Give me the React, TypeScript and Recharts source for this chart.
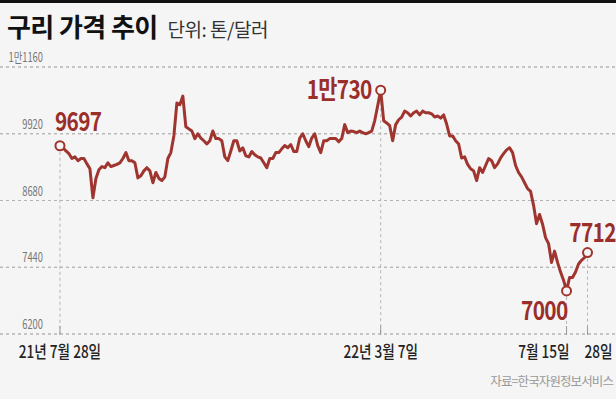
import { LineChart, Line, XAxis, YAxis, CartesianGrid, ReferenceLine } from 'recharts'

// 2021-07-28 ~ 2022-07-28 copper price, USD per ton
const prices = [
  9697, 9660, 9600, 9550, 9460, 9490, 9420, 9460, 9460, 9360,
  9270, 8730, 9090, 9250, 9310, 9290, 9380, 9310, 9330, 9350,
  9380, 9460, 9570, 9420, 9420, 9380, 9100, 9140, 9230, 9290,
  9230, 9010, 9200, 9090, 9050, 9120, 9460, 9570, 9880, 10490,
  10460, 10620, 10050, 10010, 9970, 9830, 9920, 9840, 9790, 9730,
  9790, 9970, 9830, 9830, 9790, 9490, 9420, 9600, 9790, 9790,
  9600, 9660, 9510, 9490, 9590, 9530, 9490, 9470, 9380, 9290,
  9460, 9460, 9570, 9570, 9640, 9700, 9660, 9720, 9590, 9590,
  9840, 9920, 9790, 9680, 9840, 9920, 9700, 9570, 9790, 9790,
  9830, 9830, 9830, 9770, 9830, 10090, 9940, 9970, 9960, 9940,
  9970, 9940, 9920, 9940, 9970, 10160, 10440, 10730, 10160, 10120,
  10070, 9790, 10090, 10180, 10230, 10340, 10310, 10250, 10310, 10340,
  10270, 10340, 10310, 10310, 10290, 10230, 10250, 10210, 10270, 10100,
  9880, 9880, 9790, 9730, 9470, 9490, 9350, 9270, 9230, 9050,
  9290, 9200, 9330, 9460, 9420, 9290, 9360, 9470, 9550, 9620,
  9660, 9570, 9330, 9200, 9120, 9010, 8900, 8850, 8590, 8250,
  8420, 8240, 7990, 7880, 7530, 7740, 7530, 7350, 7200, 7000,
  7250, 7250, 7350, 7500, 7570, 7620, 7712,
]

const tickIdx = [0, 107, 169, 176]
const tickLabels = ['21년 7월 28일', '22년 3월 7일', '7월 15일', '28일']
const yTicks = [6200, 7440, 8680, 9920, 11160]
const yTickLabels = ['6200', '7440', '8680', '9920', '1만1160']
const xDomain = [-20, 185.5]

const markIdx = [0, 107, 169, 176]
const markLabels = ['9697', '1만730', '7000', '7712']

const data = prices.map((v, i) => ({ i, v }))

const RED = '#a0352f'
const TEXT_RED = '#9a2e2a'
const BG = '#f5f5f5'
const GRID = '#b4b4b4'
const FONT = '"Noto Sans CJK KR", "Noto Sans", sans-serif'

// label placement per marked point
const markStyle = [
  { dx: -5, dy: -15, anchor: 'start' },
  { dx: -9, dy: 9, anchor: 'end' },
  { dx: 1, dy: 29, anchor: 'end' },
  { dx: 5, dy: -11, anchor: 'middle' },
]

function MarkDot(props: any) {
  const { cx, cy, index } = props
  const k = markIdx.indexOf(index)
  if (k < 0) return <g key={`d${index}`} />
  const s = markStyle[k]
  return (
    <g key={`d${index}`}>
      <circle cx={cx} cy={cy} r={4.5} fill={BG} stroke={RED} strokeWidth={2} />
      <g transform={`translate(${cx + s.dx},${cy + s.dy})`}>
        <text
          transform="scale(0.8,1)"
          textAnchor={s.anchor as any}
          fontFamily={FONT}
          fontWeight={700}
          fontSize={26}
          fill={TEXT_RED}
          letterSpacing={-0.8}
        >
          {markLabels[k]}
        </text>
      </g>
    </g>
  )
}

function XTick(props: any) {
  const { x, y, payload } = props
  const k = tickIdx.indexOf(payload.value)
  const anchor = k === 2 ? 'end' : k === 3 ? 'start' : 'middle'
  const tx = k === 2 ? 3 : k === 3 ? -3 : 0
  return (
    <g>
      <line x1={x} x2={x} y1={y - 8} y2={y + 1} stroke="#999" strokeWidth={1} />
      <g transform={`translate(${x + tx},${y + 24})`}>
        <text transform="scale(0.8,1)" textAnchor={anchor} fontFamily={FONT} fontWeight={500} fontSize={17} fill="#222">
          {tickLabels[k]}
        </text>
      </g>
    </g>
  )
}

function YTick(props: any) {
  const { y, payload } = props
  const k = yTicks.indexOf(payload.value)
  return (
    <g transform={`translate(43,${y - 5})`}>
      <text transform="scale(0.72,1)" textAnchor="end" fontFamily={FONT} fontSize={13} fill="#777">
        {yTickLabels[k]}
      </text>
    </g>
  )
}

export default function App() {
  return (
    <div
      style={{
        position: 'absolute',
        left: 0,
        top: 0,
        width: 616,
        height: 399,
        background: BG,
        borderTop: '3px solid #111',
        boxSizing: 'border-box',
        overflow: 'hidden',
        fontFamily: FONT,
      }}
    >
      <div style={{ position: 'absolute', left: 7, top: 4, whiteSpace: 'nowrap' }}>
        <span style={{ fontSize: 26, fontWeight: 700, color: '#111', letterSpacing: -0.6 }}>구리 가격 추이</span>
        <span style={{ fontSize: 19, color: '#333', marginLeft: 10, letterSpacing: -0.5 }}>단위: 톤/달러</span>
      </div>
      <div
        style={{
          position: 'absolute',
          right: 3,
          top: 368,
          fontSize: 12.5,
          color: '#999',
          letterSpacing: -0.9,
          whiteSpace: 'nowrap',
        }}
      >
        자료=한국자원정보서비스
      </div>
      <div style={{ position: 'absolute', left: 0, top: -3 }}>
        <LineChart width={616} height={399} data={data} margin={{ top: 67, right: 0, bottom: 35, left: -45 }}>
          <CartesianGrid vertical={false} stroke={GRID} strokeWidth={1} strokeDasharray="3 3" />
          <XAxis
            dataKey="i"
            type="number"
            domain={xDomain}
            ticks={tickIdx}
            interval={0}
            axisLine={false}
            tickLine={false}
            tickSize={0}
            tickMargin={0}
            height={30}
            tick={<XTick />}
          />
          <YAxis
            type="number"
            domain={[6200, 11160]}
            ticks={yTicks}
            interval={0}
            width={45}
            axisLine={false}
            tickLine={false}
            tick={<YTick />}
          />
          {yTicks.map((t) => (
            <ReferenceLine
              key={`h${t}`}
              segment={[
                { x: xDomain[0], y: t },
                { x: xDomain[1], y: t },
              ]}
              stroke={GRID}
              strokeWidth={1}
              strokeDasharray="3 3"
            />
          ))}
          {markIdx.map((m) => (
            <ReferenceLine
              key={m}
              segment={[
                { x: m, y: prices[m] },
                { x: m, y: 6200 },
              ]}
              stroke={GRID}
              strokeDasharray="3 3"
            />
          ))}
          <Line
            type="linear"
            dataKey="v"
            stroke={RED}
            strokeWidth={3}
            strokeLinejoin="round"
            dot={MarkDot}
            activeDot={false}
            isAnimationActive={false}
          />
        </LineChart>
      </div>
    </div>
  )
}
